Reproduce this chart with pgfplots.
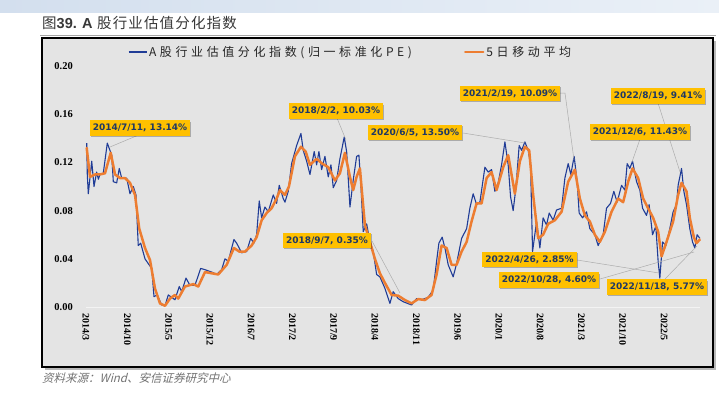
\documentclass[border=0pt]{standalone}
\usepackage{fontspec}
\usepackage{pgfplots}
\pgfplotsset{compat=1.18}
\usetikzlibrary{shadows}
\setmainfont{Liberation Serif}
\newfontfamily\cjkleg{Noto Sans CJK SC}[LetterSpace=30]
\newfontfamily\cjktitle{Noto Sans CJK SC}[LetterSpace=8]
\newfontfamily\cjksrc{Noto Sans CJK SC}[FakeSlant=0.25]
\newfontfamily\latsans{Liberation Sans}
\newfontfamily\annfont{DejaVu Sans}
\definecolor{bggray}{HTML}{E4E4E4}
\definecolor{blueline}{HTML}{203C96}
\definecolor{orangeline}{HTML}{ED7D31}
\definecolor{boxfill}{HTML}{FFC000}
\definecolor{boxtext}{HTML}{1F3864}
\definecolor{bandL}{HTML}{D3DFEE}
\definecolor{bandR}{HTML}{EAF0F7}

\pgfplotstableread{
m v
0.12 0.136
0.22 0.110
0.39 0.094
0.97 0.121
1.36 0.100
1.81 0.112
2.10 0.106
2.37 0.110
2.93 0.111
3.61 0.136
4.36 0.126
4.63 0.104
5.20 0.103
5.64 0.115
6.05 0.107
6.90 0.107
7.46 0.094
8.02 0.100
8.47 0.093
8.86 0.051
9.27 0.053
10.00 0.040
10.56 0.036
11.14 0.032
11.53 0.0086
12.08 0.010
12.83 0.0017
13.39 0.001
13.95 0.010
14.53 0.008
15.08 0.006
15.81 0.017
16.22 0.0127
16.95 0.024
17.63 0.018
18.47 0.018
19.44 0.032
20.17 0.031
21.30 0.029
22.15 0.027
23.00 0.031
23.56 0.040
24.12 0.038
25.08 0.056
25.54 0.053
26.39 0.045
27.24 0.046
27.92 0.057
28.47 0.053
28.93 0.060
29.37 0.088
29.78 0.074
30.34 0.083
30.90 0.079
31.75 0.093
32.32 0.086
32.76 0.101
33.44 0.090
33.73 0.087
34.29 0.096
34.86 0.119
35.71 0.134
36.44 0.144
36.83 0.130
37.41 0.121
37.97 0.110
38.69 0.129
39.10 0.118
39.49 0.129
39.95 0.114
40.51 0.125
41.07 0.108
41.53 0.118
41.92 0.099
42.49 0.105
43.05 0.123
43.78 0.141
44.19 0.129
44.75 0.083
45.30 0.105
45.88 0.125
46.27 0.126
46.61 0.101
47.00 0.0625
47.58 0.069
48.14 0.054
48.70 0.046
49.27 0.027
49.83 0.025
50.68 0.0155
51.53 0.003
52.08 0.0127
52.93 0.007
53.78 0.0044
55.20 0.0017
56.05 0.007
56.90 0.006
58.00 0.008
58.86 0.014
59.44 0.038
59.83 0.053
60.39 0.058
60.85 0.049
61.41 0.035
62.25 0.025
62.83 0.036
63.68 0.057
64.53 0.065
65.08 0.082
65.64 0.094
66.22 0.085
66.78 0.087
67.63 0.116
68.19 0.112
68.76 0.114
69.32 0.096
69.88 0.103
70.46 0.118
71.02 0.137
71.58 0.118
71.98 0.0915
72.42 0.080
72.88 0.0985
73.44 0.134
73.85 0.130
74.41 0.137
74.97 0.130
75.37 0.118
75.71 0.046
76.39 0.071
76.95 0.049
77.50 0.074
78.08 0.068
78.53 0.078
79.20 0.072
79.78 0.0805
80.63 0.082
81.19 0.107
81.75 0.119
82.20 0.110
82.76 0.125
83.27 0.104
83.61 0.078
84.19 0.074
84.86 0.079
85.42 0.065
86.27 0.060
86.83 0.051
87.68 0.060
88.25 0.082
88.93 0.086
89.49 0.096
90.05 0.087
90.80 0.101
91.36 0.097
91.75 0.119
92.20 0.115
92.66 0.121
93.34 0.104
93.90 0.097
94.36 0.082
95.03 0.076
95.47 0.085
96.05 0.060
96.61 0.067
97.00 0.038
97.29 0.024
97.75 0.054
98.30 0.051
98.98 0.065
99.54 0.079
100.12 0.085
100.39 0.101
100.97 0.115
101.36 0.096
101.81 0.085
102.37 0.065
102.83 0.054
103.22 0.049
103.61 0.060
104.07 0.057
}\bluedata

\pgfplotstableread{
m v
0.12 0.132
0.68 0.108
1.53 0.110
2.37 0.110
3.22 0.111
4.19 0.128
4.92 0.110
5.76 0.107
6.61 0.107
7.46 0.103
8.31 0.093
9.03 0.065
10.00 0.049
10.85 0.039
11.69 0.0155
12.54 0.003
13.39 0.001
14.24 0.007
15.08 0.010
15.64 0.007
16.78 0.017
18.19 0.019
19.03 0.017
20.17 0.029
21.30 0.028
22.42 0.027
23.85 0.035
25.08 0.049
25.98 0.046
26.95 0.046
28.08 0.051
28.93 0.058
29.78 0.072
30.63 0.078
31.47 0.082
32.32 0.090
32.88 0.097
33.73 0.093
34.41 0.100
35.42 0.125
36.44 0.133
37.24 0.129
37.97 0.118
39.10 0.123
40.05 0.119
41.07 0.116
42.20 0.105
43.05 0.111
43.90 0.128
44.75 0.108
45.30 0.097
45.88 0.108
46.44 0.115
46.83 0.093
47.29 0.068
48.14 0.054
48.98 0.040
49.83 0.028
50.68 0.020
51.81 0.010
52.93 0.0094
54.07 0.0058
55.20 0.003
56.32 0.0066
57.46 0.0058
58.59 0.010
59.44 0.027
60.29 0.051
61.14 0.049
61.98 0.035
62.83 0.035
63.68 0.046
64.53 0.054
65.37 0.071
66.22 0.086
67.07 0.086
67.92 0.107
68.76 0.112
69.61 0.097
70.73 0.116
71.58 0.126
72.71 0.094
73.56 0.121
74.41 0.133
75.14 0.130
75.81 0.093
76.66 0.057
77.50 0.060
78.35 0.069
79.49 0.072
80.63 0.079
81.75 0.104
82.88 0.114
83.73 0.090
84.58 0.076
85.42 0.071
86.27 0.060
87.12 0.054
87.97 0.0625
89.10 0.079
90.22 0.090
91.07 0.087
91.92 0.104
92.66 0.115
93.61 0.107
94.46 0.090
95.30 0.082
96.15 0.074
97.00 0.0625
97.58 0.042
98.42 0.054
99.54 0.071
100.39 0.093
100.97 0.103
101.81 0.096
102.37 0.074
103.05 0.058
103.50 0.053
104.07 0.056
}\orangedata

\begin{document}
\begin{tikzpicture}
% pixel coordinate scope: (x,y) measured from top-left, in bp
\begin{scope}[x=1bp,y=-1bp,yshift=399bp]
\path[use as bounding box] (0,0) rectangle (719,399);
\fill[white] (0,0) rectangle (719,399);
\shade[left color=bandL, right color=bandR] (0,0) rectangle (719,12);
\node[anchor=west, inner sep=0pt, text=black!78] at (42,23)
  {\fontsize{14.5bp}{15bp}\selectfont\cjktitle 图{\latsans\bfseries 39. A} 股行业估值分化指数};
\draw[gray!70, line width=1.2bp] (40,35.5) -- (716,35.5);
\fill[gray!55] (44.5,40.5) rectangle (715.5,369.5);
\draw[black, line width=1.5bp, fill=bggray] (42,38) rectangle (713,367);
\node[anchor=west, inner sep=0pt, text=black!55] at (42,378)
  {\fontsize{11.5bp}{12bp}\selectfont\cjksrc 资料来源：Wind、安信证券研究中心};
\end{scope}

\begin{axis}[
  at={(86bp,92bp)}, anchor=south west,
  scale only axis, width=614bp, height=241bp,
  xmin=0, xmax=104.1, ymin=0, ymax=0.2,
  axis line style={draw=none},
  tick style={draw=none},
  clip=false,
  /pgf/number format/assume math mode=true,
  ytick={0,0.04,0.08,0.12,0.16,0.2},
  yticklabels={0.00,0.04,0.08,0.12,0.16,0.20},
  xtick={0,7,14,21,28,35,42,49,56,63,70,77,84,91,98},
  xticklabels={2014/3,2014/10,2015/5,2015/12,2016/7,2017/2,2017/9,2018/4,2018/11,2019/6,2020/1,2020/8,2021/3,2021/10,2022/5},
  yticklabel style={font=\bfseries\fontsize{10.5bp}{10.5bp}\selectfont, inner sep=0pt, anchor=east},
  yticklabel shift=13bp,
  xticklabel style={font=\bfseries\fontsize{10bp}{10bp}\selectfont, inner sep=0pt, rotate=-90, anchor=west},
  xticklabel shift=6bp,
  legend columns=2,
  legend style={draw=none, fill=none, at={(0.0684,1.058)}, anchor=west,
    inner sep=0pt, outer sep=0pt,
    font=\cjkleg\fontsize{12bp}{12bp}\selectfont, text=black!85,
    /tikz/every even column/.append style={column sep=50bp}},
  legend image code/.code={\draw[#1] (0bp,0bp) -- (18bp,0bp);},
]
\draw[white!55!bggray, line width=0.8bp] (axis cs:0,0) -- (axis cs:104.1,0);
\addplot[blueline, line width=1.1bp, line join=round] table[x=m,y=v] {\bluedata};
\addlegendentry{A股行业估值分化指数(归一标准化PE)}
\addplot[orangeline, line width=2.5bp, line join=round, line cap=round] table[x=m,y=v] {\orangedata};
\addlegendentry{5日移动平均}
\end{axis}

\begin{scope}[x=1bp,y=-1bp,yshift=399bp]
\begin{scope}[gray!65, line width=0.5bp]
\draw (141,134)--(110,147);
\draw (337,118)--(346,140);
\draw (463,133)--(525,143);
\draw (560,93)--(565,93)--(574,160);
\draw (658,103)--(680,172);
\draw (640,139)--(632,162);
\draw (372,241)--(400,293);
\draw (577,260)--(659,273);
\draw (600,279)--(694,252);
\draw (665,279)--(697,246);
\end{scope}
\tikzset{ann/.style={fill=boxfill, text=boxtext, inner xsep=3bp, inner ysep=3.6bp,
  font=\annfont\bfseries\fontsize{9bp}{9bp}\selectfont,
  drop shadow={shadow xshift=1.2bp, shadow yshift=-1.2bp, fill=black, opacity=0.25}}}
\node[ann] at (140,128) {2014/7/11, 13.14\%};
\node[ann] at (336,111) {2018/2/2, 10.03\%};
\node[ann] at (415,132.5) {2020/6/5, 13.50\%};
\node[ann] at (510,93.5) {2021/2/19, 10.09\%};
\node[ann] at (658,96) {2022/8/19, 9.41\%};
\node[ann] at (640,132) {2021/12/6, 11.43\%};
\node[ann] at (327,240.5) {2018/9/7, 0.35\%};
\node[ann] at (529.5,259.5) {2022/4/26, 2.85\%};
\node[ann] at (549,280) {2022/10/28, 4.60\%};
\node[ann] at (657,287) {2022/11/18, 5.77\%};
\end{scope}
\end{tikzpicture}
\end{document}
